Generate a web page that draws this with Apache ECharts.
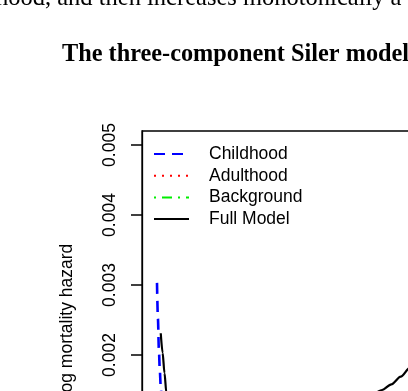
<!DOCTYPE html>
<html>
<head>
<meta charset="utf-8">
<script src="https://cdn.jsdelivr.net/npm/echarts@6/dist/echarts.min.js"></script>
<style>
  html, body { margin: 0; padding: 0; width: 408px; height: 391px; overflow: hidden; background: #fff; }
  #chart { width: 700px; height: 600px; }
</style>
</head>
<body>
<div id="chart"></div>
<script>
// ages (years) and the four hazard curves
const ages = [0, 0.25, 0.5, 0.75, 1, 1.5, 2, 2.5, 3, 4, 5, 7.5, 10, 15, 20, 25, 30, 35, 40, 45, 50, 55, 60, 62.5, 65, 67.5, 70, 75, 80, 85, 90, 95, 100];
const childhood = [0.00303, 0.00252, 0.00208, 0.00178, 0.00154, 0.00110, 0.00080, 0.00058, 0.00042, 0.00022, 0.00012, 0.00003, 0.00001,
  0, 0, 0, 0, 0, 0, 0, 0, 0, 0, 0, 0, 0, 0, 0, 0, 0, 0, 0, 0];
const adulthood = [0.00001, 0.00001, 0.00001, 0.00001, 0.00001, 0.00001, 0.00001, 0.00001, 0.00001, 0.00001, 0.00001, 0.00001, 0.00001,
  0.00002, 0.00003, 0.00004, 0.00006, 0.00009, 0.00013, 0.00019, 0.00028, 0.0004, 0.00055, 0.00063, 0.00074, 0.00087, 0.0011, 0.0016, 0.0023, 0.0033, 0.0047, 0.0066, 0.0093];
const background = ages.map(() => 0.00095);
const fullModel = [null, null, null, null, 0.00231, 0.00203, 0.00174, 0.00146, 0.00128, 0.00112, 0.00105, 0.00098, 0.00096,
  0.00097, 0.00098, 0.00099, 0.00101, 0.00104, 0.00108, 0.00114, 0.00122, 0.00133, 0.00150, 0.00158, 0.00169, 0.00182, 0.00203, 0.00255, 0.00325, 0.00425, 0.00565, 0.0075, 0.0102];
const yTicks = [0, 0.001, 0.002, 0.003, 0.004, 0.005];

const pairs = (vals) => ages.map((a, i) => [a, vals[i]]).filter(p => p[1] !== null);

const chart = echarts.init(document.getElementById("chart"));
const sans = "Liberation Sans";

const option = {
  backgroundColor: "#fff",
  animation: false,
  graphic: [
    {
      type: "text", left: -4, top: -14,
      style: { text: "hood, and then increases monotonically a", font: "24.5px 'Liberation Serif'", fill: "#000" }
    },
    {
      type: "text", left: 62, top: 43,
      style: { text: "The three-component Siler model", font: "bold 24.3px 'Liberation Serif'", fill: "#000" }
    }
  ],
  legend: {
    orient: "vertical",
    left: 153, top: 145,
    padding: 0,
    itemWidth: 35, itemHeight: 14, itemGap: 3.7,
    itemStyle: { opacity: 0 },
    textStyle: { fontFamily: sans, fontSize: 17.5, color: "#000", padding: [0, 0, 0, 15] },
    data: ["Childhood", "Adulthood", "Background", "Full Model"]
  },
  grid: {
    left: 142, top: 131, width: 405, height: 378,
    show: true, borderColor: "#000", borderWidth: 1.3, backgroundColor: "transparent"
  },
  xAxis: {
    type: "value", min: -4, max: 104,
    axisLine: { onZero: false, lineStyle: { color: "#000" } },
    axisLabel: { fontFamily: sans, fontSize: 17.5, color: "#000" },
    splitLine: { show: false }
  },
  yAxis: [
    {
      // tick marks
      type: "value", min: -0.0002, max: 0.0052,
      axisLine: { show: true, onZero: false, lineStyle: { color: "#000", width: 1.3 } },
      axisTick: { show: true, length: 11, lineStyle: { color: "#000", width: 1.5 }, customValues: yTicks },
      axisLabel: { show: false },
      splitLine: { show: false }
    },
    {
      // tick labels and axis title
      type: "value", min: -0.0002, max: 0.0052, position: "left", offset: 0,
      name: "log mortality hazard", nameLocation: "middle", nameRotate: 90, nameGap: 66,
      nameTextStyle: { fontFamily: sans, fontSize: 17.5, color: "#000" },
      axisLine: { show: false, onZero: false },
      axisTick: { show: false },
      axisLabel: {
        fontFamily: sans, fontSize: 17.5, color: "#000", rotate: 90, margin: 23,
        customValues: yTicks, formatter: (v) => v.toFixed(3)
      },
      splitLine: { show: false }
    }
  ],
  series: [
    {
      name: "Childhood", type: "line", symbol: "none", smooth: 0.3, smoothMonotone: "x",
      lineStyle: { color: "#0000ff", width: 2.6, type: [11, 7] },
      itemStyle: { color: "#0000ff" },
      data: pairs(childhood)
    },
    {
      name: "Adulthood", type: "line", symbol: "none", smooth: 0.3, smoothMonotone: "x",
      lineStyle: { color: "#ff0000", width: 2, type: [2, 6] },
      itemStyle: { color: "#ff0000" },
      data: pairs(adulthood)
    },
    {
      name: "Background", type: "line", symbol: "none",
      lineStyle: { color: "#00ee00", width: 2, type: [2, 6, 10, 6] },
      itemStyle: { color: "#00ee00" },
      data: pairs(background)
    },
    {
      name: "Full Model", type: "line", symbol: "none", smooth: 0.3, smoothMonotone: "x",
      lineStyle: { color: "#000", width: 2.2 },
      itemStyle: { color: "#000" },
      data: pairs(fullModel)
    }
  ]
};

chart.setOption(option);
</script>
</body>
</html>
